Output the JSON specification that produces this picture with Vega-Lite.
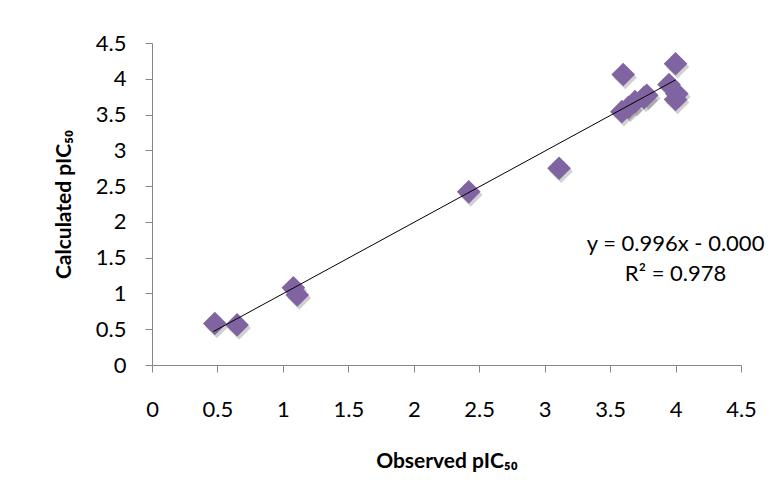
{
  "$schema": "https://vega.github.io/schema/vega-lite/v6.json",
  "width": 589,
  "height": 322,
  "autosize": "none",
  "padding": {"left": 152, "top": 43, "right": 38, "bottom": 135},
  "background": "white",
  "config": {"view": {"stroke": null}, "font": "Lato"},
  "datasets": {
    "points": [
      {"observed": 0.48, "calculated": 0.58},
      {"observed": 0.65, "calculated": 0.56},
      {"observed": 1.08, "calculated": 1.08},
      {"observed": 1.11, "calculated": 0.98},
      {"observed": 2.42, "calculated": 2.42},
      {"observed": 3.11, "calculated": 2.75},
      {"observed": 3.6, "calculated": 4.06},
      {"observed": 3.59, "calculated": 3.54},
      {"observed": 3.64, "calculated": 3.6},
      {"observed": 3.69, "calculated": 3.68},
      {"observed": 3.76, "calculated": 3.74},
      {"observed": 3.78, "calculated": 3.77},
      {"observed": 3.95, "calculated": 3.92},
      {"observed": 4.0, "calculated": 4.21},
      {"observed": 4.0, "calculated": 3.71},
      {"observed": 4.01, "calculated": 3.79}
    ],
    "fit": [
      {"observed": 0.47, "calculated": 0.468},
      {"observed": 4.0, "calculated": 3.984}
    ]
  },
  "layer": [
    {
      "data": {"name": "points"},
      "mark": {"type": "point", "shape": "diamond", "filled": true, "size": 560, "color": "#000000", "opacity": 0.18, "xOffset": 2, "yOffset": 3},
      "encoding": {
        "x": {
          "field": "observed", "type": "quantitative",
          "scale": {"domain": [0, 4.5], "nice": false, "zero": false},
          "axis": {
            "values": [0, 0.5, 1, 1.5, 2, 2.5, 3, 3.5, 4, 4.5],
            "tickCount": 20,
            "format": "~g",
            "grid": false,
            "labelOverlap": false,
            "labelBound": false,
            "labelFlush": false,
            "domainColor": "#868686",
            "tickColor": "#868686",
            "tickSize": 7,
            "labelPadding": 27,
            "labelFontSize": 22,
            "labelColor": "#000000",
            "labelFont": "Lato",
            "title": "Observed pIC₅₀",
            "titleFontSize": 21,
            "titleFont": "Lato",
            "titleFontWeight": "bold",
            "titleColor": "#000000",
            "titlePadding": 30
          }
        },
        "y": {
          "field": "calculated", "type": "quantitative",
          "scale": {"domain": [0, 4.5], "nice": false, "zero": false},
          "axis": {
            "values": [0, 0.5, 1, 1.5, 2, 2.5, 3, 3.5, 4, 4.5],
            "tickCount": 20,
            "format": "~g",
            "grid": false,
            "labelOverlap": false,
            "labelBound": false,
            "labelFlush": false,
            "domainColor": "#868686",
            "tickColor": "#868686",
            "tickSize": 7,
            "labelPadding": 19,
            "labelFontSize": 22,
            "labelColor": "#000000",
            "labelFont": "Lato",
            "title": "Calculated pIC₅₀",
            "titleFontSize": 21,
            "titleFont": "Lato",
            "titleFontWeight": "bold",
            "titleColor": "#000000",
            "titlePadding": 21
          }
        }
      }
    },
    {
      "data": {"name": "points"},
      "mark": {"type": "point", "shape": "diamond", "filled": true, "size": 560, "color": "#8064A2", "opacity": 1},
      "encoding": {
        "x": {"field": "observed", "type": "quantitative"},
        "y": {"field": "calculated", "type": "quantitative"}
      }
    },
    {
      "data": {"name": "fit"},
      "mark": {"type": "line", "color": "#000000", "strokeWidth": 1},
      "encoding": {
        "x": {"field": "observed", "type": "quantitative"},
        "y": {"field": "calculated", "type": "quantitative"}
      }
    },
    {
      "data": {"values": [{"label": "y = 0.996x - 0.000"}]},
      "mark": {"type": "text", "fontSize": 22, "font": "Lato", "color": "#000000", "align": "center", "baseline": "middle"},
      "encoding": {
        "x": {"datum": 4.0, "type": "quantitative"},
        "y": {"datum": 1.69, "type": "quantitative"},
        "text": {"field": "label"}
      }
    },
    {
      "data": {"values": [{"label": "R² = 0.978"}]},
      "mark": {"type": "text", "fontSize": 22, "font": "Lato", "color": "#000000", "align": "center", "baseline": "middle"},
      "encoding": {
        "x": {"datum": 4.0, "type": "quantitative"},
        "y": {"datum": 1.27, "type": "quantitative"},
        "text": {"field": "label"}
      }
    }
  ]
}
